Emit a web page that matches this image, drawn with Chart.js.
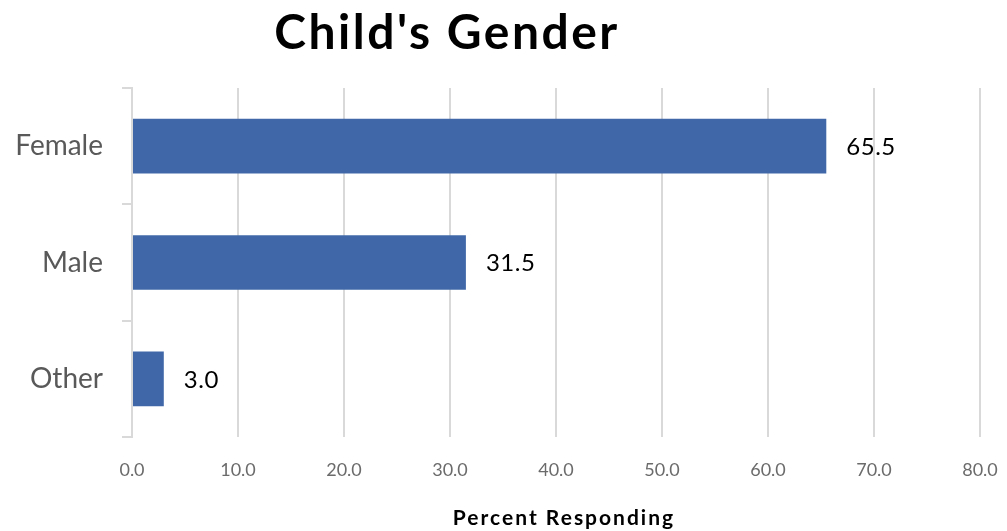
<!DOCTYPE html>
<html>
<head>
<meta charset="utf-8">
<script src="https://cdn.jsdelivr.net/npm/chart.js@4/dist/chart.umd.min.js"></script>
<style>
  html, body { margin: 0; padding: 0; background: #fff; }
  #wrap { width: 1007px; height: 531px; position: relative; }
</style>
</head>
<body>
<div id="wrap"><canvas id="c"></canvas></div>
<script>
const categories = ["Female", "Male", "Other"];
const percentValues = [65.5, 31.5, 3.0];
const xTickValues = [0, 10, 20, 30, 40, 50, 60, 70, 80];
const chartTitle = "Child's Gender";
const axisTitle = "Percent Responding";

const FONT = "Lato, 'Open Sans', sans-serif";

// Title, axis title and value labels drawn on top of the chart
const annotate = {
  id: 'annotate',
  afterDraw(chart) {
    const ctx = chart.ctx;
    const area = chart.chartArea;
    ctx.save();
    ctx.fillStyle = '#000';
    ctx.textBaseline = 'middle';

    ctx.font = "bold 48px " + FONT;
    ctx.letterSpacing = '2.5px';
    ctx.textAlign = 'center';
    ctx.fillText(chartTitle, 447, 34);

    ctx.font = "bold 21px " + FONT;
    ctx.letterSpacing = '2px';
    ctx.fillText(axisTitle, (area.left + area.right) / 2 + 8, 518);

    const meta = chart.getDatasetMeta(0);
    ctx.font = "24px " + FONT;
    ctx.letterSpacing = '0.5px';
    ctx.textAlign = 'left';
    meta.data.forEach((bar, i) => {
      ctx.fillText(percentValues[i].toFixed(1), bar.x + 20, bar.y + 1);
    });
    ctx.restore();
  }
};

new Chart(document.getElementById('c'), {
  type: 'bar',
  data: {
    labels: categories,
    datasets: [{
      data: percentValues,
      backgroundColor: '#4068A9',
      borderWidth: 0,
      barPercentage: 0.47,
      categoryPercentage: 1.0
    }]
  },
  plugins: [annotate],
  options: {
    indexAxis: 'y',
    responsive: true,
    maintainAspectRatio: false,
    animation: false,
    layout: { padding: { top: 88, right: 27, left: 0, bottom: 0 } },
    plugins: {
      legend: { display: false },
      tooltip: { enabled: false },
      title: { display: false }
    },
    scales: {
      x: {
        min: 0,
        max: 80,
        afterBuildTicks(scale) {
          scale.ticks = xTickValues.map(v => ({ value: v }));
        },
        afterFit(scale) {
          scale.height = 94;
          scale.paddingLeft = 0;
          scale.paddingRight = 0;
        },
        border: { display: false },
        grid: { color: '#d9d9d9', lineWidth: 2, drawTicks: false },
        ticks: {
          padding: 22,
          color: '#6b6b6b',
          font: { family: FONT, size: 18 },
          callback: v => Number(v).toFixed(1)
        }
      },
      y: {
        afterFit(scale) { scale.width = 132; },
        border: { display: true, color: '#d9d9d9', width: 2 },
        grid: {
          offset: true,
          drawOnChartArea: false,
          drawTicks: true,
          tickLength: 10,
          color: '#d9d9d9',
          lineWidth: 2
        },
        ticks: {
          padding: 19,
          color: '#595959',
          font: { family: FONT, size: 28 }
        }
      }
    }
  }
});
</script>
</body>
</html>
